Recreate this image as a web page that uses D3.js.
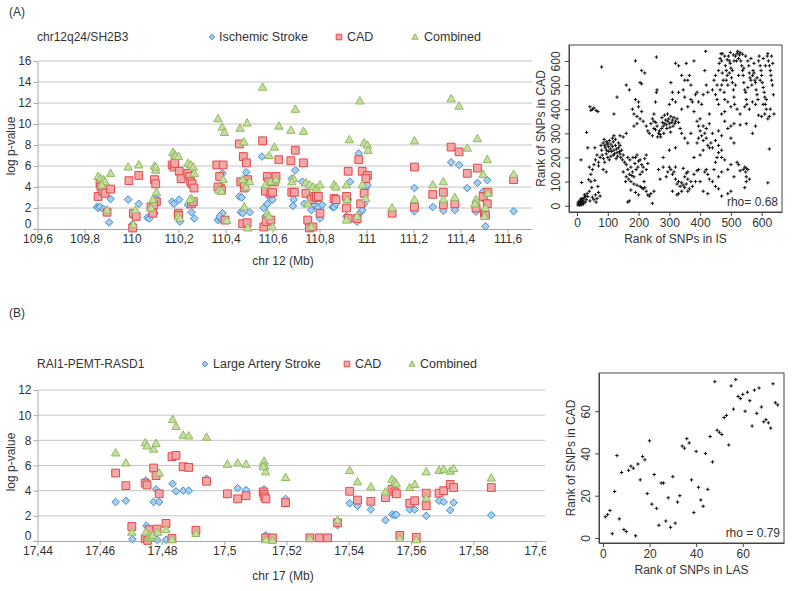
<!DOCTYPE html>
<html><head><meta charset="utf-8">
<script src="https://cdn.jsdelivr.net/npm/d3@7"></script>
<style>
body{margin:0;background:#fff}
text{font-family:"Liberation Sans",Arial,sans-serif}
</style>
</head><body>
<svg id="c" width="800" height="591"></svg>
<script>
// ---------- Panel A data (chr12q24/SH2B3) ----------
const chr12IS = [[109.854,2.1],[109.858,2.0],[109.866,2.1],[109.881,1.9],[109.896,1.75],[109.905,0.63],[109.911,2.86],
[109.986,2.8],[110.008,1.2],[110.005,0.45],[110.031,2.4],[110.068,1.1],[110.076,1.0],[110.098,1.5],[110.106,2.9],
[110.173,2.6],[110.181,2.4],[110.203,2.8],[110.206,0.7],[110.240,2.3],[110.255,1.6],[110.267,1.0],[110.255,2.8],
[110.368,0.85],[110.378,1.0],[110.387,1.5],[110.387,5.3],[110.375,1.2],[110.459,3.1],[110.469,3.0],[110.465,1.6],
[110.473,1.5],[110.488,5.4],[110.503,1.6],[110.555,6.9],[110.563,2.0],[110.578,2.4],[110.585,3.1],[110.600,2.8],
[110.615,4.8],[110.570,1.2],[110.585,0.85],[110.682,4.8],[110.690,2.8],[110.697,5.6],[110.687,2.2],[110.727,4.5],
[110.735,2.4],[110.750,3.2],[110.765,1.8],[110.780,2.3],[110.795,2.1],[110.802,1.0],[110.811,2.3],[110.856,2.1],
[110.862,2.1],[110.870,2.4],[110.915,1.2],[110.922,2.8],[110.930,4.5],[110.967,7.2],[110.975,1.6],[110.982,1.8],
[110.990,2.4],[110.997,3.9],[111.004,4.2],[110.960,0.7],[111.204,3.9],[111.204,1.7],[111.282,2.1],[111.327,1.75],
[111.360,6.35],[111.376,1.8],[111.394,6.1],[111.429,3.9],[111.466,1.65],[111.472,4.4],[111.496,3.55],[111.506,0.25],
[111.514,4.65],[111.502,2.8],[111.626,1.7]];
const chr12CAD = [[109.858,3.1],[109.866,4.3],[109.870,4.0],[109.878,3.6],[109.888,3.4],[109.896,1.6],[109.911,3.8],
[109.989,4.6],[110.008,1.5],[110.005,0.1],[110.031,5.1],[110.020,1.2],[110.083,2.1],[110.091,1.5],[110.098,4.7],
[110.103,4.3],[110.106,2.6],[110.095,2.3],[110.173,6.1],[110.181,5.9],[110.184,6.25],[110.199,1.5],[110.203,5.5],
[110.211,4.8],[110.200,1.3],[110.240,5.3],[110.248,5.0],[110.252,4.5],[110.258,4.3],[110.266,3.9],[110.255,2.4],
[110.263,2.6],[110.363,6.1],[110.375,5.0],[110.378,3.9],[110.390,6.1],[110.368,4.0],[110.383,3.7],[110.398,0.85],
[110.459,8.1],[110.476,6.9],[110.489,6.3],[110.465,4.5],[110.480,3.9],[110.473,0.5],[110.492,0.6],[110.495,4.7],
[110.480,4.3],[110.558,8.4],[110.578,5.0],[110.585,4.5],[110.570,3.6],[110.593,3.4],[110.600,3.5],[110.608,4.5],
[110.615,5.0],[110.563,0.2],[110.573,0.7],[110.593,0.85],[110.627,6.6],[110.678,6.5],[110.697,7.5],[110.682,3.5],
[110.693,3.5],[110.732,6.3],[110.742,3.4],[110.750,0.85],[110.757,0.1],[110.765,2.8],[110.780,3.1],[110.787,3.0],
[110.795,3.1],[110.802,1.5],[110.772,0.2],[110.862,2.9],[110.870,2.8],[110.915,3.1],[110.922,5.5],[110.915,2.0],
[110.922,1.0],[110.967,6.6],[110.975,2.4],[110.982,5.5],[110.990,3.4],[111.004,5.1],[110.997,4.8],[110.960,1.0],
[111.109,1.5],[111.204,5.9],[111.204,2.1],[111.282,3.3],[111.327,3.5],[111.327,2.3],[111.360,7.8],[111.376,2.4],
[111.394,7.35],[111.429,5.3],[111.466,2.0],[111.472,5.8],[111.496,3.1],[111.502,1.5],[111.506,1.3],[111.514,2.4],
[111.517,3.5],[111.626,4.7]];
const chr12Comb = [[109.858,5.0],[109.869,4.8],[109.881,4.7],[109.888,4.5],[109.896,1.8],[109.911,5.3],[109.873,4.2],
[109.986,5.9],[110.031,6.1],[110.016,1.8],[110.008,0.4],[110.098,6.0],[110.103,5.6],[110.106,3.5],[110.091,2.8],
[110.083,2.0],[110.103,5.9],[110.176,7.3],[110.184,7.1],[110.188,6.95],[110.200,6.9],[110.199,1.2],[110.206,1.0],
[110.240,6.25],[110.252,6.1],[110.263,5.9],[110.267,5.3],[110.255,2.9],[110.248,2.8],[110.368,10.5],[110.386,9.7],
[110.395,9.2],[110.372,3.7],[110.383,3.6],[110.390,4.7],[110.405,0.8],[110.462,9.6],[110.478,8.3],[110.492,10.1],
[110.473,4.7],[110.488,4.0],[110.503,4.5],[110.480,2.1],[110.495,0.1],[110.558,13.5],[110.585,7.0],[110.608,7.8],
[110.627,9.8],[110.570,4.2],[110.593,4.5],[110.615,4.7],[110.578,1.5],[110.600,0.2],[110.585,1.2],[110.678,9.4],
[110.697,11.4],[110.690,4.8],[110.682,4.5],[110.732,9.3],[110.742,4.4],[110.757,4.2],[110.772,4.0],[110.787,3.9],
[110.802,4.2],[110.750,2.4],[110.765,0.2],[110.862,4.2],[110.870,4.0],[110.915,4.2],[110.927,8.5],[110.918,2.8],
[110.915,0.85],[110.972,12.2],[110.990,8.2],[111.004,8.0],[111.007,7.5],[110.982,4.2],[110.997,2.9],[110.960,1.2],
[111.109,2.0],[111.204,8.4],[111.204,2.8],[111.282,4.2],[111.327,4.5],[111.327,2.8],[111.360,12.4],[111.376,3.0],
[111.394,11.7],[111.429,7.7],[111.472,8.6],[111.466,2.8],[111.462,2.4],[111.496,5.2],[111.514,6.6],[111.506,2.0],
[111.517,3.4],[111.502,1.2],[111.626,5.2]];
const chr12XTicks = [109.6,109.8,110,110.2,110.4,110.6,110.8,111,111.2,111.4,111.6];
const chr12XLabels = ["109,6","109,8","110","110,2","110,4","110,6","110,8","111","111,2","111,4","111,6"];
const chr12YTicks = [0,2,4,6,8,10,12,14,16];

// ---------- Panel B data (RAI1-PEMT-RASD1) ----------
const chr17LAS = [[17.4651,3.1],[17.4684,3.2],[17.4705,0.15],[17.4748,4.8],[17.4750,1.2],[17.4748,0.1],[17.4773,3.1],
[17.4781,4.1],[17.4784,0.1],[17.4791,3.1],[17.4813,0.1],[17.4834,4.55],[17.4845,3.95],[17.4868,4.0],[17.4886,4.0],
[17.4909,0.65],[17.4943,4.95],[17.5010,3.75],[17.5043,4.2],[17.5070,4.05],[17.5128,4.1],[17.5125,3.9],[17.5130,3.4],
[17.5133,0.45],[17.5197,3.35],[17.5364,1.25],[17.5403,3.0],[17.5428,2.8],[17.5471,2.5],[17.5518,1.65],[17.5540,2.1],
[17.5548,2.05],[17.5553,2.1],[17.5596,2.5],[17.5612,2.5],[17.5649,2.0],[17.5649,3.2],[17.5690,3.2],[17.5705,3.1],
[17.5726,2.45],[17.5737,3.05],[17.5858,2.05]];
const chr17CAD = [[17.4651,5.4],[17.4684,4.4],[17.4703,1.15],[17.4746,4.6],[17.4752,4.45],[17.4746,0.2],[17.4754,0.05],
[17.4759,0.9],[17.4773,5.8],[17.4781,5.2],[17.4784,0.95],[17.4791,3.75],[17.4813,1.4],[17.4832,6.7],[17.4845,6.8],
[17.4832,0.2],[17.4868,5.9],[17.4886,5.85],[17.4909,0.85],[17.4943,4.75],[17.5010,3.75],[17.5043,3.35],[17.5070,3.6],
[17.5125,3.9],[17.5128,3.7],[17.5130,3.5],[17.5134,3.35],[17.5133,0.25],[17.5155,0.25],[17.5197,3.05],[17.5275,0.25],
[17.5305,0.25],[17.5332,0.25],[17.5364,1.45],[17.5403,3.95],[17.5428,3.25],[17.5471,3.15],[17.5518,3.45],[17.5539,4.1],
[17.5548,3.9],[17.5553,3.75],[17.5564,0.45],[17.5596,3.0],[17.5612,3.2],[17.5617,0.3],[17.5649,3.8],[17.5649,2.8],
[17.5690,3.8],[17.5705,4.0],[17.5726,4.5],[17.5737,4.25],[17.5858,4.25]];
const chr17Comb = [[17.4651,7.0],[17.4684,6.2],[17.4703,0.7],[17.4746,7.8],[17.4752,7.55],[17.4748,0.7],[17.4759,0.45],
[17.4758,0.2],[17.4765,0.3],[17.4773,7.3],[17.4781,7.75],[17.4770,0.45],[17.4786,0.7],[17.4791,5.4],[17.4813,0.9],
[17.4834,9.65],[17.4845,9.1],[17.4832,0.1],[17.4868,8.4],[17.4886,8.35],[17.4909,0.6],[17.4943,8.25],[17.5010,6.1],
[17.5043,6.2],[17.5070,6.1],[17.5125,6.15],[17.5128,6.35],[17.5130,5.95],[17.5133,5.5],[17.5125,5.9],[17.5134,0.1],
[17.5155,0.05],[17.5197,5.05],[17.5275,0.2],[17.5364,1.65],[17.5403,5.6],[17.5428,4.7],[17.5471,4.3],[17.5518,3.9],
[17.5539,4.9],[17.5548,4.7],[17.5553,4.55],[17.5564,0.2],[17.5596,4.25],[17.5612,4.5],[17.5617,0.1],[17.5649,5.5],
[17.5649,3.4],[17.5690,5.6],[17.5705,5.7],[17.5726,5.55],[17.5737,5.75],[17.5858,5.0]];
const chr17XTicks = [17.44,17.46,17.48,17.5,17.52,17.54,17.56,17.58,17.6];
const chr17XLabels = ["17,44","17,46","17,48","17,5","17,52","17,54","17,56","17,58","17,6"];
const chr17YTicks = [0,2,4,6,8,10,12];

// ---------- Rank scatter A (IS vs CAD) ----------
const rankA = [[3,3],[5,8],[8,5],[10,12],[12,6],[14,15],[6,18],[15,22],[18,10],[20,28],[22,18],[25,35],[9,2],[17,30],[28,40],
[30,25],[24,45],[12,28],[33,50],[35,38],[4,12],[16,4],[21,8],[27,15],[11,20],[15,96],[13,190],
[40,60],[45,100],[50,35],[55,25],[60,45],[65,30],[70,55],[48,75],[58,105],[38,108],[75,40],[62,15],[42,20],[68,80],
[45,130],[50,150],[55,170],[40,160],[35,240],[31,304],[60,190],[65,210],[58,240],[70,180],
[42,410],[50,400],[55,405],[62,395],[68,390],[45,395],[80,575],
[75,200],[80,230],[85,260],[88,275],[90,250],[92,240],[95,265],[98,255],[100,260],[102,245],[105,270],[108,235],[110,255],
[112,225],[115,245],[118,265],[120,230],[122,215],[125,250],[128,235],[130,220],[132,205],[135,240],[138,225],[140,215],
[142,200],[145,230],[148,190],[150,210],[95,215],[100,200],[90,180],[105,190],[110,205],[115,280],[120,290],[125,275],
[82,210],[78,250],[96,230],[118,210],[135,260],[86,195],[103,225],[127,195],[140,250],[70,165],[85,150],[95,140],
[155,180],[160,170],[165,150],[170,130],[175,160],[180,140],[185,120],[188,175],[190,200],[195,210],[200,185],[205,190],
[210,170],[215,160],[220,195],[225,150],[160,120],[168,110],[175,100],[178,125],[185,90],[192,150],[198,160],[205,130],
[212,140],[165,200],[172,190],[150,140],[158,100],[182,200],[218,100],[225,210],[230,175],
[165,15],[170,20],[175,65],[190,55],[205,80],[210,75],[215,70],[220,75],[225,60],[200,45],[240,50],[245,10],[250,60],
[230,45],[195,85],[235,40],
[140,290],[150,285],[160,300],[130,450],[120,380],[160,500],[170,480],[190,440],[190,600],[200,430],[205,510],[210,505],
[210,560],[220,550],[200,410],[180,400],[185,380],[195,370],[205,360],[210,390],[215,350],[225,330],[230,310],[235,300],
[240,340],[245,360],[250,380],[255,430],[260,480],[258,470],[195,340],[185,330],[258,616],
[250,320],[255,315],[260,330],[265,300],[268,310],[270,295],[275,320],[278,345],[280,330],[282,300],[285,340],[288,355],
[290,335],[292,320],[295,350],[298,360],[300,340],[302,325],[305,370],[308,345],[310,355],[312,330],[315,365],[318,340],
[320,350],[325,360],[330,345],[335,320],[340,300],[262,285],[272,285],[276,365],[284,375],[294,380],[304,305],[250,350],
[245,290],[256,345],
[300,420],[310,440],[320,430],[330,470],[340,400],[350,450],[355,590],[360,520],[365,540],[370,440],[375,430],[380,600],
[385,460],[390,470],[395,430],[350,520],[340,540],[330,580],[320,590],[305,510],[310,470],[360,410],[370,500],[345,480],
[380,390],[390,350],[395,330],[400,310],[405,290],[410,270],[400,360],[410,330],[415,300],[420,280],[425,250],[430,240],
[405,420],[410,460],[415,560],[420,500],[425,470],[430,380],
[300,160],[305,150],[310,130],[315,140],[320,110],[325,90],[330,100],[335,80],[340,95],[345,85],[350,75],[355,90],
[340,60],[330,50],[350,120],[355,135],[360,110],[365,70],[370,100],[360,60],[375,80],[380,130],[385,100],[320,160],
[345,155],[310,60],[325,45],[295,140],[290,120],[360,140],
[390,145],[395,150],[400,210],[410,230],[415,140],[420,150],[425,130],[430,110],[440,100],[445,150],[450,180],[455,200],
[460,220],[440,240],[435,260],[400,100],[410,60],[425,50],[450,80],[460,120],[470,140],[380,200],[390,260],[395,280],
[420,320],[430,340],[440,300],[450,270],[460,250],[470,230],[280,160],[270,110],[265,150],[280,200],[300,230],[320,240],
[360,260],[350,280],[370,300],
[440,480],[445,520],[450,540],[455,500],[460,560],[462,590],[465,610],[468,630],[470,600],[472,550],[475,520],[478,470],
[480,440],[482,580],[485,560],[488,540],[490,500],[492,620],[495,600],[498,590],[500,570],[502,530],[505,510],[508,480],
[510,450],[512,420],[515,620],[518,600],[520,630],[522,640],[525,610],[528,625],[530,635],[532,600],[535,580],[538,560],
[540,540],[542,510],[545,480],[548,470],[550,440],[552,420],[555,600],[558,580],[560,550],[562,530],[565,520],[568,500],
[570,540],[572,560],[575,550],[578,520],[580,510],[582,480],[585,460],[588,440],[590,600],[592,620],[595,580],[598,560],
[600,540],[602,510],[605,490],[608,470],[610,450],[612,420],[615,400],[618,620],[620,630],[622,600],[625,580],[628,560],
[630,540],[632,520],[635,500],[638,460],[640,380],[625,370],[620,360],[610,380],[600,370],[590,375],[580,420],[570,430],
[560,400],[545,410],[530,380],[520,400],[500,410],[490,430],[480,390],[470,380],[460,420],[450,460],[585,530],[575,590],
[565,610],[548,620],[538,628],[510,600],[505,560],[495,550],[485,520],[470,500],[465,480],[455,440],[525,540],[515,500],
[555,490],[542,570],[595,520],[605,610],[612,580],[632,620],[636,590],[628,400],[615,440],[605,420],[480,620],[488,605],
[472,630],[498,635],[508,625],[418,640],
[520,180],[525,170],[530,145],[540,150],[545,160],[548,140],[550,155],[555,150],[550,120],[545,75],[550,100],[560,110],
[620,95],[625,235],[530,335],[550,340],[570,300],[580,330],[500,330],[510,340],[480,350],[490,320],[460,310],[470,290],
[500,280],[510,260],[470,200],[480,190],[490,150],[500,170],[510,120],[500,60],[490,50],[470,40],[460,70]];
const rankATicks = [0,100,200,300,400,500,600];

// ---------- Rank scatter B (LAS vs CAD) ----------
const rankBx = d3.range(1, 76);
const rankBy = [10,11,13,2,22,39,9,31,4,3,32,34,33,1,35,27.5,38.5,37,21,46,16,30,14,6,26,26,8,19,5,29,7,17,20,43.5,42.5,
47,45,27.5,12,41,24,18,15,40,23,48,36,74,51,50,49,57,58,44,72,61,75,67,66,68,60,69,65,53,70,59,71,62,55,56,54.5,52,73,64,63];
const rankBTicks = [0,20,40,60];

// ---------- drawing ----------
const svg = d3.select("#c");
const TXT = "#333";
const GRID = "#c4c4c4";

const seriesStyle = {
  diamond:{fill:"#a9cdee", stroke:"#3e8ed0"},
  square:{fill:"#f4a7a7", stroke:"#e2494b"},
  triangle:{fill:"#c7dea2", stroke:"#8fba5c"}
};
function markerPath(type, s){
  if(type==="diamond") return `M0,${-s}L${s},0L0,${s}L${-s},0Z`;
  if(type==="square") return `M${-s},${-s}H${s}V${s}H${-s}Z`;
  return `M0,${-s*1.15}L${s*1.1},${s*0.8}L${-s*1.1},${s*0.8}Z`;
}

function drawPanel(o){
  const g = svg.append("g");
  const x = d3.scaleLinear().domain(o.xDomain).range([37.5, o.xEnd]);
  const y = d3.scaleLinear().domain([0, o.yMax]).range(o.yRange);
  g.append("g").selectAll("line").data(o.yTicks.filter(d=>d>0)).join("line")
    .attr("x1", x.range()[0]).attr("x2", x.range()[1])
    .attr("y1", d=>y(d)).attr("y2", d=>y(d))
    .attr("stroke", GRID).attr("stroke-width",1);
  const ya = g.append("g").attr("transform",`translate(${x.range()[0]},0)`)
    .call(d3.axisLeft(y).tickValues(o.yTicks).tickSize(4).tickSizeOuter(0).tickPadding(2));
  ya.select(".domain").attr("stroke", "#a6a6a6");
  ya.selectAll(".tick line").attr("stroke","#a6a6a6");
  ya.selectAll("text").attr("fill",TXT).style("font-size","12px").style("font-family","Liberation Sans, Arial, sans-serif");
  ya.selectAll(".tick").filter(d=>d===0).select("text").attr("dy","-0.12em");
  const xa = g.append("g").attr("transform",`translate(0,${y(0)})`)
    .call(d3.axisBottom(x).tickValues(o.xTicks).tickFormat((d,i)=>o.xLabels[i]).tickSize(4).tickSizeOuter(0).tickPadding(1));
  xa.select(".domain").attr("stroke", "#a6a6a6");
  xa.selectAll(".tick line").attr("stroke","#a6a6a6");
  xa.selectAll("text").attr("fill",TXT).style("font-size","12px").style("font-family","Liberation Sans, Arial, sans-serif");
  o.series.forEach(s=>{
    const st = seriesStyle[s.type];
    g.append("g").selectAll("path").data(s.data).join("path")
      .attr("d", markerPath(s.type, s.type==="square"?3.9:3.8))
      .attr("transform", d=>`translate(${x(d[0])},${y(d[1])})`)
      .attr("fill", st.fill).attr("stroke", st.stroke).attr("stroke-width",1);
  });
  g.append("text").attr("x", o.tagX).attr("y", o.tagY).text(o.tag)
    .attr("fill",TXT).style("font-size","12px");
  g.append("text").attr("x", 37).attr("y", o.titleY).text(o.title)
    .attr("fill",TXT).style("font-size","12px");
  o.legend.forEach(l=>{
    const st = seriesStyle[l.type];
    g.append("path").attr("d", markerPath(l.type, 2.8))
      .attr("transform",`translate(${l.mx},${o.titleY-4})`)
      .attr("fill", st.fill).attr("stroke", st.stroke);
    g.append("text").attr("x", l.tx).attr("y", o.titleY).text(l.label)
      .attr("fill",TXT).style("font-size","12.5px");
  });
  g.append("text").attr("transform",`translate(15,${o.yTitleY}) rotate(-90)`)
    .attr("text-anchor","middle").text("log p-value").attr("fill",TXT).style("font-size","12px");
  g.append("text").attr("x", o.xTitleX).attr("y", o.xTitleY).attr("text-anchor","middle")
    .text(o.xTitle).attr("fill",TXT).style("font-size","12px");
}

drawPanel({
  xDomain:[109.6, 109.6 + (532-37.5)/47*0.2], xEnd:532, yMax:16, yRange:[229,61],
  xTicks:chr12XTicks, xLabels:chr12XLabels, yTicks:chr12YTicks,
  series:[{type:"diamond",data:chr12IS},{type:"square",data:chr12CAD},{type:"triangle",data:chr12Comb}],
  tag:"(A)", tagX:9, tagY:16, title:"chr12q24/SH2B3", titleY:41,
  legend:[{type:"diamond",mx:212,tx:219,label:"Ischemic Stroke"},{type:"square",mx:339,tx:347,label:"CAD"},
          {type:"triangle",mx:415,tx:424,label:"Combined"}],
  yTitleY:146, xTitle:"chr 12 (Mb)", xTitleX:283, xTitleY:265
});
drawPanel({
  xDomain:[17.44, 17.44 + (545-37.5)/62.25*0.02], xEnd:545, yMax:12, yRange:[541,390],
  xTicks:chr17XTicks, xLabels:chr17XLabels, yTicks:chr17YTicks,
  series:[{type:"diamond",data:chr17LAS},{type:"square",data:chr17CAD},{type:"triangle",data:chr17Comb}],
  tag:"(B)", tagX:9, tagY:317, title:"RAI1-PEMT-RASD1", titleY:368,
  legend:[{type:"diamond",mx:205,tx:213,label:"Large Artery Stroke"},{type:"square",mx:347,tx:355,label:"CAD"},
          {type:"triangle",mx:412,tx:420,label:"Combined"}],
  yTitleY:462, xTitle:"chr 17 (Mb)", xTitleX:283, xTitleY:580
});

svg.append("rect").attr("x",533).attr("y",0).attr("width",267).attr("height",290).attr("fill","#fff");
svg.append("rect").attr("x",546).attr("y",290).attr("width",254).attr("height",301).attr("fill","#fff");

function drawRank(o){
  const g = svg.append("g");
  const x = d3.scaleLinear().domain(o.xDomain).range([o.l, o.r]);
  const y = d3.scaleLinear().domain(o.yDomain).range([o.b, o.t]);
  const xa = g.append("g").attr("transform",`translate(0,${o.b})`)
    .call(d3.axisBottom(x).tickValues(o.ticks).tickSize(4).tickSizeOuter(0).tickPadding(2));
  const ya = g.append("g").attr("transform",`translate(${o.l},0)`)
    .call(d3.axisLeft(y).tickValues(o.ticks).tickSize(4).tickSizeOuter(0).tickPadding(2));
  [xa,ya].forEach(a=>{
    a.select(".domain").attr("stroke","#444");
    a.selectAll(".tick line").attr("stroke","#444");
    a.selectAll("text").attr("fill",TXT).style("font-size","12px").style("font-family","Liberation Sans, Arial, sans-serif");
  });
  ya.selectAll(".tick text").attr("transform","rotate(-90)").attr("text-anchor","middle")
    .attr("x",0).attr("dy","0").attr("y",-9);
  g.append("rect").attr("x",o.l).attr("y",o.t).attr("width",o.r-o.l).attr("height",o.b-o.t)
    .attr("fill","none").attr("stroke","#444").attr("stroke-width",1);
  g.append("g").selectAll("path").data(o.data).join("path")
    .attr("d","M-1.7,0H1.7M0,-1.7V1.7")
    .attr("transform",d=>`translate(${x(d[0])},${y(d[1])})`)
    .attr("stroke","#111").attr("stroke-width",1);
  g.append("text").attr("x",o.r-4).attr("y",o.b-6).attr("text-anchor","end")
    .text(o.rho).attr("fill",TXT).style("font-size","12px");
  g.append("text").attr("x",(o.l+o.r)/2).attr("y",o.b+31).attr("text-anchor","middle")
    .text(o.xTitle).attr("fill",TXT).style("font-size","12px");
  g.append("text").attr("transform",`translate(${o.l-24},${(o.t+o.b)/2}) rotate(-90)`).attr("text-anchor","middle")
    .text(o.yTitle).attr("fill",TXT).style("font-size","12px");
}

drawRank({l:569,r:782,t:45,b:212,xDomain:[-26,666],yDomain:[-26,666],ticks:rankATicks,data:rankA,
  rho:"rho= 0.68", xTitle:"Rank of SNPs in IS", yTitle:"Rank of SNPs in CAD"});
drawRank({l:599,r:784,t:373,b:543,xDomain:[-1.7,77.7],yDomain:[-2.4,78.1],ticks:rankBTicks,
  data:rankBx.map((v,i)=>[v,rankBy[i]]),
  rho:"rho = 0.79", xTitle:"Rank of SNPs in LAS", yTitle:"Rank of SNPs in CAD"});
</script>
</body></html>
